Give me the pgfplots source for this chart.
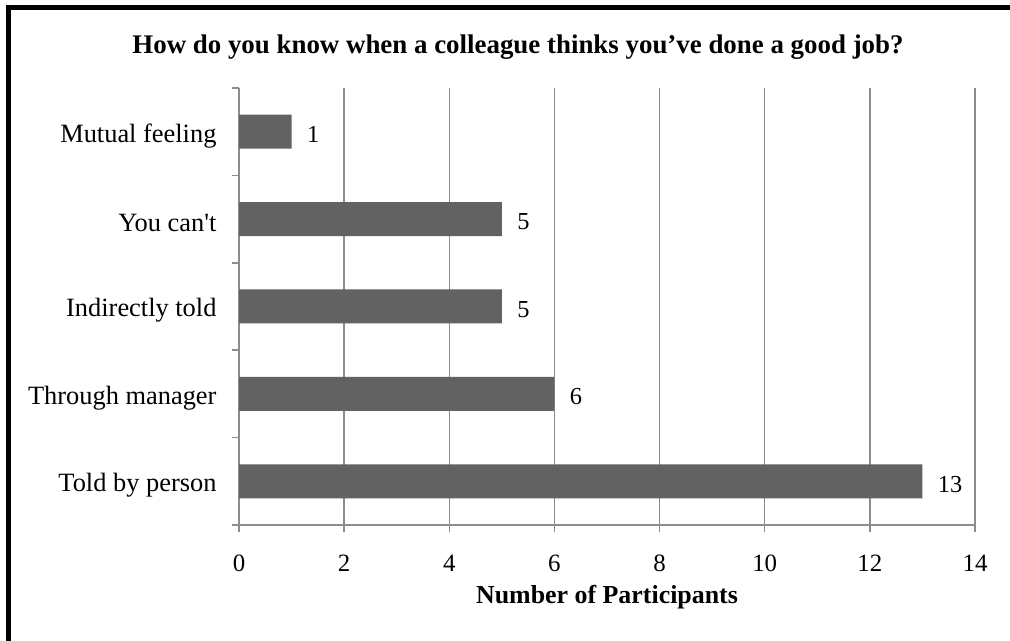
\documentclass[border=0pt]{standalone}
\usepackage{pgfplots}
\pgfplotsset{compat=1.18}
\usepackage{fontspec}
\setmainfont{Liberation Serif}[Ligatures=TeXOff]
\definecolor{barfill}{HTML}{626262}
\definecolor{gridgray}{HTML}{8C8C8C}
\begin{document}
\begin{tikzpicture}[x=1bp,y=1bp]
\useasboundingbox (0,0) rectangle (1010,641);
\fill[white] (0,0) rectangle (1010,641);
% frame (left and top edges)
\draw[line width=5bp,black] (8,0) -- (8,633.5) -- (1010,633.5);
\node[font=\fontsize{27}{30}\selectfont\bfseries] at (518,594) {How do you know when a colleague thinks you’ve done a good job?};
\begin{axis}[
  at={(239bp,116bp)}, anchor=south west,
  scale only axis,
  width=736bp, height=437bp,
  xmin=0, xmax=14,
  ymin=-0.5, ymax=4.5,
  xtick={0,2,...,14},
  ytick={-0.5,0.5,...,4.5},
  yticklabels={},
  extra y ticks={0,1,2,3,4},
  extra y tick labels={Told by person,Through manager,Indirectly told,You can't,Mutual feeling},
  extra y tick style={major tick length=0pt, ytick style={draw=none},
    yticklabel style={font=\fontsize{26.5}{30}\selectfont, xshift=-19bp, yshift=-4bp}},
  ytick style={gridgray,line width=1.5bp},
  xtick style={gridgray,line width=1.5bp},
  xtick align=outside, ytick align=outside,
  major tick length=7bp,
  xmajorgrids,
  grid style={gridgray,line width=1.5bp},
  axis x line*=bottom, axis y line*=left,
  axis line style={gridgray,line width=1.5bp,-},
  tick label style={font=\fontsize{25}{28}\selectfont},
  /pgf/number format/assume math mode=true,
  xticklabel style={anchor=base, yshift=-40bp},
  xlabel={\textbf{Number of Participants}},
  xlabel style={font=\fontsize{26}{30}\selectfont, at={(axis description cs:0.5,0)}, anchor=base, yshift=-79bp},
  xbar, bar width=34bp,
  nodes near coords,
  nodes near coords style={font=\fontsize{24.5}{28}\selectfont, xshift=12bp, yshift=-3bp},
  clip=false,
]
\addplot[fill=barfill, draw=none] coordinates {(13,0) (6,1) (5,2) (5,3) (1,4)};
\end{axis}
\end{tikzpicture}
\end{document}
